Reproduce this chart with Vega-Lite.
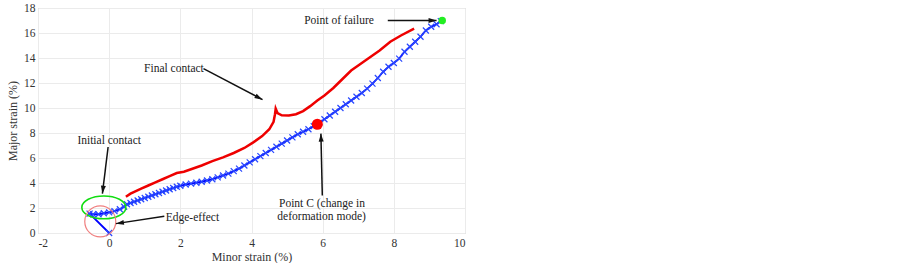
{
  "$schema": "https://vega.github.io/schema/vega-lite/v6.json",
  "width": 427,
  "height": 225,
  "autosize": {"type": "none"},
  "padding": {"left": 38, "top": 8, "right": 438, "bottom": 30},
  "background": "white",
  "config": {
    "view": {"stroke": "#c4c4c4", "strokeWidth": 1},
    "axis": {
      "labelFont": "Liberation Serif", "labelFontSize": 11.5, "labelColor": "#333333",
      "titleFont": "Liberation Serif", "titleFontSize": 12, "titleFontWeight": "normal", "titleColor": "#333333",
      "gridColor": "#ebebeb", "gridWidth": 1, "domain": false, "ticks": false
    }
  },
  "datasets": {
    "blue": [
      {"i": 0, "x": 0.0, "y": 0.0}, {"i": 1, "x": -0.55, "y": 1.55}, {"i": 2, "x": -0.45, "y": 1.5}, {"i": 3, "x": -0.3, "y": 1.5},
      {"i": 4, "x": -0.15, "y": 1.58}, {"i": 5, "x": 0.0, "y": 1.65}, {"i": 6, "x": 0.15, "y": 1.75}, {"i": 7, "x": 0.3, "y": 1.9},
      {"i": 8, "x": 0.42, "y": 2.1}, {"i": 9, "x": 0.5, "y": 2.3}, {"i": 10, "x": 0.6, "y": 2.4}, {"i": 11, "x": 0.7, "y": 2.5},
      {"i": 12, "x": 0.8, "y": 2.6}, {"i": 13, "x": 0.9, "y": 2.7}, {"i": 14, "x": 1.0, "y": 2.8}, {"i": 15, "x": 1.1, "y": 2.9},
      {"i": 16, "x": 1.2, "y": 3.0}, {"i": 17, "x": 1.3, "y": 3.1}, {"i": 18, "x": 1.4, "y": 3.2}, {"i": 19, "x": 1.5, "y": 3.3},
      {"i": 20, "x": 1.6, "y": 3.4}, {"i": 21, "x": 1.7, "y": 3.5}, {"i": 22, "x": 1.8, "y": 3.6}, {"i": 23, "x": 1.9, "y": 3.7},
      {"i": 24, "x": 2.0, "y": 3.78}, {"i": 25, "x": 2.15, "y": 3.88}, {"i": 26, "x": 2.3, "y": 3.95}, {"i": 27, "x": 2.45, "y": 4.02},
      {"i": 28, "x": 2.6, "y": 4.1}, {"i": 29, "x": 2.75, "y": 4.2}, {"i": 30, "x": 2.9, "y": 4.3}, {"i": 31, "x": 3.05, "y": 4.45},
      {"i": 32, "x": 3.2, "y": 4.6}, {"i": 33, "x": 3.35, "y": 4.75}, {"i": 34, "x": 3.5, "y": 4.95}, {"i": 35, "x": 3.65, "y": 5.15},
      {"i": 36, "x": 3.8, "y": 5.4}, {"i": 37, "x": 3.95, "y": 5.65}, {"i": 38, "x": 4.1, "y": 5.9}, {"i": 39, "x": 4.25, "y": 6.15},
      {"i": 40, "x": 4.4, "y": 6.4}, {"i": 41, "x": 4.55, "y": 6.65}, {"i": 42, "x": 4.7, "y": 6.9}, {"i": 43, "x": 4.85, "y": 7.15},
      {"i": 44, "x": 5.0, "y": 7.4}, {"i": 45, "x": 5.15, "y": 7.65}, {"i": 46, "x": 5.3, "y": 7.9}, {"i": 47, "x": 5.45, "y": 8.1},
      {"i": 48, "x": 5.6, "y": 8.3}, {"i": 49, "x": 5.75, "y": 8.55}, {"i": 50, "x": 5.9, "y": 8.8}, {"i": 51, "x": 6.05, "y": 9.1},
      {"i": 52, "x": 6.2, "y": 9.4}, {"i": 53, "x": 6.35, "y": 9.7}, {"i": 54, "x": 6.5, "y": 10.0}, {"i": 55, "x": 6.65, "y": 10.3},
      {"i": 56, "x": 6.8, "y": 10.6}, {"i": 57, "x": 6.95, "y": 10.9}, {"i": 58, "x": 7.1, "y": 11.2}, {"i": 59, "x": 7.25, "y": 11.55},
      {"i": 60, "x": 7.4, "y": 11.95}, {"i": 61, "x": 7.55, "y": 12.4}, {"i": 62, "x": 7.7, "y": 12.9}, {"i": 63, "x": 7.85, "y": 13.3},
      {"i": 64, "x": 8.0, "y": 13.6}, {"i": 65, "x": 8.15, "y": 13.95}, {"i": 66, "x": 8.3, "y": 14.5}, {"i": 67, "x": 8.45, "y": 14.9},
      {"i": 68, "x": 8.6, "y": 15.3}, {"i": 69, "x": 8.75, "y": 15.7}, {"i": 70, "x": 8.9, "y": 16.2}, {"i": 71, "x": 9.05, "y": 16.5},
      {"i": 72, "x": 9.2, "y": 16.7}, {"i": 73, "x": 9.32, "y": 16.95}
    ],
    "red": [
      {"i": 0, "x": 0.47, "y": 2.9}, {"i": 1, "x": 0.6, "y": 3.15}, {"i": 2, "x": 0.75, "y": 3.35}, {"i": 3, "x": 0.9, "y": 3.55},
      {"i": 4, "x": 1.1, "y": 3.8}, {"i": 5, "x": 1.3, "y": 4.05}, {"i": 6, "x": 1.5, "y": 4.3}, {"i": 7, "x": 1.7, "y": 4.55},
      {"i": 8, "x": 1.9, "y": 4.8}, {"i": 9, "x": 2.1, "y": 4.9}, {"i": 10, "x": 2.3, "y": 5.1}, {"i": 11, "x": 2.6, "y": 5.4},
      {"i": 12, "x": 2.9, "y": 5.75}, {"i": 13, "x": 3.2, "y": 6.05}, {"i": 14, "x": 3.5, "y": 6.4}, {"i": 15, "x": 3.8, "y": 6.8},
      {"i": 16, "x": 4.05, "y": 7.25}, {"i": 17, "x": 4.3, "y": 7.75}, {"i": 18, "x": 4.5, "y": 8.3}, {"i": 19, "x": 4.62, "y": 8.9},
      {"i": 20, "x": 4.66, "y": 9.5}, {"i": 21, "x": 4.68, "y": 9.95}, {"i": 22, "x": 4.73, "y": 9.6}, {"i": 23, "x": 4.85, "y": 9.42},
      {"i": 24, "x": 5.05, "y": 9.4}, {"i": 25, "x": 5.25, "y": 9.5}, {"i": 26, "x": 5.45, "y": 9.75}, {"i": 27, "x": 5.65, "y": 10.15},
      {"i": 28, "x": 5.85, "y": 10.6}, {"i": 29, "x": 6.05, "y": 11.0}, {"i": 30, "x": 6.3, "y": 11.6}, {"i": 31, "x": 6.55, "y": 12.3},
      {"i": 32, "x": 6.8, "y": 13.0}, {"i": 33, "x": 7.05, "y": 13.5}, {"i": 34, "x": 7.3, "y": 14.0}, {"i": 35, "x": 7.6, "y": 14.6},
      {"i": 36, "x": 7.9, "y": 15.3}, {"i": 37, "x": 8.2, "y": 15.8}, {"i": 38, "x": 8.57, "y": 16.35}
    ],
    "arrows": [
      {"name": "failure", "x": 7.83, "y": 17.0, "xe": 9.2, "ye": 17.0},
      {"name": "final", "x": 2.65, "y": 13.15, "xe": 4.31, "ye": 10.67},
      {"name": "initial", "x": -0.03, "y": 6.88, "xe": -0.19, "ye": 3.15},
      {"name": "edge", "x": 1.55, "y": 1.34, "xe": 0.19, "ye": 0.75},
      {"name": "pointc", "x": 5.99, "y": 3.0, "xe": 5.95, "ye": 7.95}
    ],
    "labels": [
      {"t": "Point of failure", "x": 6.46, "y": 16.96},
      {"t": "Final contact", "x": 1.82, "y": 13.1},
      {"t": "Initial contact", "x": 0.0, "y": 7.34},
      {"t": "Edge-effect", "x": 2.34, "y": 1.23},
      {"t": "Point C (change in", "x": 5.98, "y": 2.35},
      {"t": "deformation mode)", "x": 5.97, "y": 1.28}
    ]
  },
  "encoding": {
    "x": {"field": "x", "type": "quantitative", "title": "Minor strain (%)",
      "scale": {"domain": [-2, 10], "nice": false, "zero": false},
      "axis": {"values": [-2, 0, 2, 4, 6, 8, 10], "labelPadding": 4, "titlePadding": 3, "labelFont": "Liberation Serif",
        "labelExpr": "replace(datum.label, '\u2212', '-')"}},
    "y": {"field": "y", "type": "quantitative", "title": "Major strain (%)",
      "scale": {"domain": [0, 18], "nice": false, "zero": false},
      "axis": {"values": [0, 2, 4, 6, 8, 10, 12, 14, 16, 18], "labelPadding": 3, "titlePadding": 4, "labelFont": "Liberation Serif"}}
  },
  "layer": [
    {"data": {"name": "blue"}, "mark": {"type": "line", "color": "#0000ff", "strokeWidth": 1.8}, "encoding": {"order": {"field": "i"}}},
    {"data": {"name": "blue"}, "mark": {"type": "point", "shape": "M-1,-1L1,1M-1,1L1,-1", "filled": false, "stroke": "#2848ff", "strokeWidth": 1.2, "size": 36, "opacity": 1}},
    {"data": {"name": "red"}, "mark": {"type": "line", "color": "#ee0000", "strokeWidth": 2.5}, "encoding": {"order": {"field": "i"}}},
    {"data": {"values": [{"x": -0.15, "y": 2.05}]}, "mark": {"type": "point", "shape": "M-1,0A1,0.52 0 1,0 1,0A1,0.52 0 1,0 -1,0", "filled": false, "stroke": "#11dd11", "strokeWidth": 1.6, "size": 1936, "opacity": 1}},
    {"data": {"values": [{"x": -0.25, "y": 0.93}]}, "mark": {"type": "point", "shape": "circle", "filled": false, "stroke": "#f08080", "strokeWidth": 1.2, "size": 961, "opacity": 1}},
    {"data": {"values": [{"x": 5.85, "y": 8.7}]}, "mark": {"type": "point", "shape": "circle", "filled": true, "color": "#ff0000", "size": 121, "opacity": 1}},
    {"data": {"values": [{"x": 9.36, "y": 17.0}]}, "mark": {"type": "point", "shape": "circle", "filled": true, "color": "#22ee22", "size": 56, "opacity": 1}},
    {"data": {"name": "arrows"}, "mark": {"type": "rule", "color": "#111111", "strokeWidth": 1.5}, "encoding": {"x2": {"field": "xe"}, "y2": {"field": "ye"}}},
    {"data": {"name": "arrows"}, "transform": [{"filter": "datum.name == 'failure'"}], "mark": {"type": "point", "shape": "M0,0L0.5,1.6L-0.5,1.6Z", "filled": true, "color": "#111111", "size": 100, "opacity": 1, "angle": 90}, "encoding": {"x": {"field": "xe", "type": "quantitative"}, "y": {"field": "ye", "type": "quantitative"}}},
    {"data": {"name": "arrows"}, "transform": [{"filter": "datum.name == 'final'"}], "mark": {"type": "point", "shape": "M0,0L0.5,1.6L-0.5,1.6Z", "filled": true, "color": "#111111", "size": 100, "opacity": 1, "angle": 118}, "encoding": {"x": {"field": "xe", "type": "quantitative"}, "y": {"field": "ye", "type": "quantitative"}}},
    {"data": {"name": "arrows"}, "transform": [{"filter": "datum.name == 'initial'"}], "mark": {"type": "point", "shape": "M0,0L0.5,1.6L-0.5,1.6Z", "filled": true, "color": "#111111", "size": 100, "opacity": 1, "angle": 187}, "encoding": {"x": {"field": "xe", "type": "quantitative"}, "y": {"field": "ye", "type": "quantitative"}}},
    {"data": {"name": "arrows"}, "transform": [{"filter": "datum.name == 'edge'"}], "mark": {"type": "point", "shape": "M0,0L0.5,1.6L-0.5,1.6Z", "filled": true, "color": "#111111", "size": 100, "opacity": 1, "angle": 261}, "encoding": {"x": {"field": "xe", "type": "quantitative"}, "y": {"field": "ye", "type": "quantitative"}}},
    {"data": {"name": "arrows"}, "transform": [{"filter": "datum.name == 'pointc'"}], "mark": {"type": "point", "shape": "M0,0L0.5,1.6L-0.5,1.6Z", "filled": true, "color": "#111111", "size": 100, "opacity": 1, "angle": 358}, "encoding": {"x": {"field": "xe", "type": "quantitative"}, "y": {"field": "ye", "type": "quantitative"}}},
    {"data": {"name": "labels"}, "mark": {"type": "text", "align": "center", "baseline": "middle", "font": "Liberation Serif", "fontSize": 11.5, "color": "#222222"}, "encoding": {"text": {"field": "t"}}}
  ]
}
